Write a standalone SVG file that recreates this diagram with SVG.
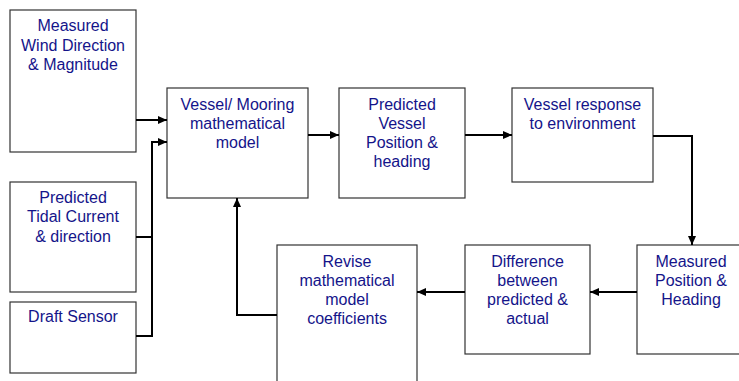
<svg xmlns="http://www.w3.org/2000/svg" width="739" height="381" viewBox="0 0 739 381">
<defs>
<marker id="arr" markerUnits="userSpaceOnUse" markerWidth="10" markerHeight="9" refX="9" refY="4" orient="auto">
<path d="M0,0 L9,4 L0,8 z" fill="#000"/>
</marker>
<style>
.box{fill:#fff;stroke:#333;stroke-width:1.2}
.t{font-family:"Liberation Sans",Arial,sans-serif;font-size:16px;fill:#14148a;text-anchor:middle}
.c{fill:none;stroke:#000;stroke-width:2}
</style>
</defs>
<rect width="739" height="381" fill="#fff"/>
<g id="wind"><rect class="box" x="10" y="10" width="126" height="142"/>
<text class="t" x="73" y="31">Measured</text><text class="t" x="73" y="51">Wind Direction</text><text class="t" x="73" y="70">&amp; Magnitude</text></g>
<g id="tidal"><rect class="box" x="10" y="182" width="126" height="110"/>
<text class="t" x="73" y="203">Predicted</text><text class="t" x="73" y="222">Tidal Current</text><text class="t" x="73" y="242">&amp; direction</text></g>
<g id="draft"><rect class="box" x="10" y="302" width="126" height="71"/>
<text class="t" x="73" y="322">Draft Sensor</text></g>
<g id="model"><rect class="box" x="167" y="88" width="141" height="110"/>
<text class="t" x="237.5" y="110">Vessel/ Mooring</text><text class="t" x="237.5" y="129">mathematical</text><text class="t" x="237.5" y="148">model</text></g>
<g id="predicted"><rect class="box" x="339" y="88" width="126" height="110"/>
<text class="t" x="402" y="110">Predicted</text><text class="t" x="402" y="129">Vessel</text><text class="t" x="402" y="148">Position &amp;</text><text class="t" x="402" y="167">heading</text></g>
<g id="response"><rect class="box" x="512" y="88" width="141" height="94"/>
<text class="t" x="582.5" y="110">Vessel response</text><text class="t" x="582.5" y="129">to environment</text></g>
<g id="measured"><rect class="box" x="637" y="245" width="108" height="109"/>
<text class="t" x="691" y="267">Measured</text><text class="t" x="691" y="286">Position &amp;</text><text class="t" x="691" y="305">Heading</text></g>
<g id="difference"><rect class="box" x="465" y="245" width="125" height="109"/>
<text class="t" x="527.5" y="267">Difference</text><text class="t" x="527.5" y="286">between</text><text class="t" x="527.5" y="305">predicted &amp;</text><text class="t" x="527.5" y="324">actual</text></g>
<g id="revise"><rect class="box" x="277" y="245" width="140" height="145"/>
<text class="t" x="347" y="267">Revise</text><text class="t" x="347" y="286">mathematical</text><text class="t" x="347" y="305">model</text><text class="t" x="347" y="324">coefficients</text></g>
<g id="connectors">
<path class="c" d="M136,120 H167" marker-end="url(#arr)"/>
<path class="c" d="M136,237 H152"/>
<path class="c" d="M136,336 H152 V142 H167" marker-end="url(#arr)"/>
<path class="c" d="M308,135 H339" marker-end="url(#arr)"/>
<path class="c" d="M465,135 H512" marker-end="url(#arr)"/>
<path class="c" d="M653,136 H692 V245" marker-end="url(#arr)"/>
<path class="c" d="M637,292 H590" marker-end="url(#arr)"/>
<path class="c" d="M465,292 H417" marker-end="url(#arr)"/>
<path class="c" d="M277,315 H237 V198" marker-end="url(#arr)"/>
</g>
</svg>
